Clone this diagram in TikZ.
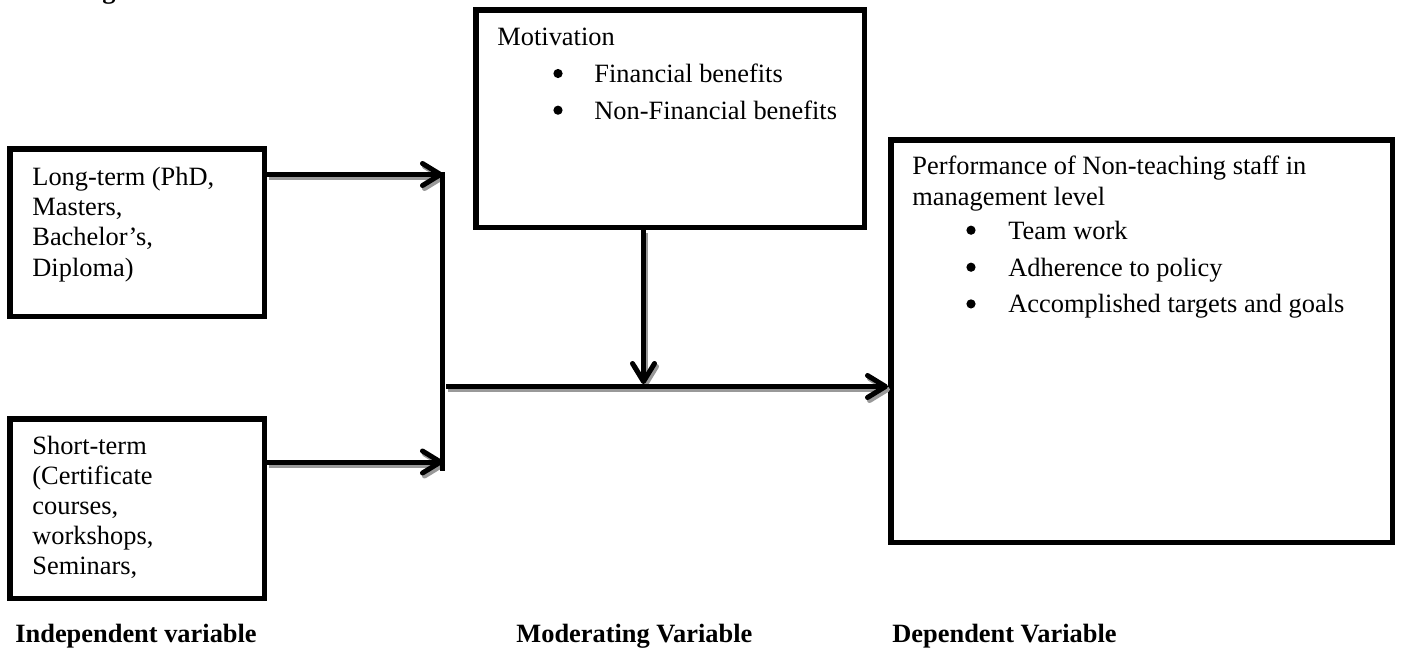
\documentclass[tikz,border=0pt]{standalone}
\usepackage{fontspec}
\setmainfont{Liberation Serif}
\usetikzlibrary{arrows.meta}
\begin{document}
\begin{tikzpicture}[x=0.5pt,y=-0.5pt,
  box/.style={draw, line width=2.75pt, inner sep=0pt, fill=white},
  txt/.style={anchor=base west, inner sep=0pt, font=\fontsize{13.2}{15.25}\selectfont},
  lbl/.style={txt, font=\fontsize{13.2}{15.25}\selectfont\bfseries},
  bul/.style={circle, fill=black, inner sep=0pt, minimum size=4.6pt},
  conn/.style={line width=2.5pt, -{Straight Barb[length=9pt,width=11pt,line cap=round,line join=round]}},
  shade/.style={conn, draw=black!40, transform canvas={xshift=1pt,yshift=-1.5pt}},
  barline/.style={line width=2.5pt}
]
\useasboundingbox (0,0) rectangle (1408,649);

% cut-off heading glyph at the top
\node[lbl] (headg) at (102,-2) {g};

% boxes
\node[box, minimum width=127.25pt, minimum height=83.75pt] (lt) at (137,232.5) {};
\node[box, minimum width=127.25pt, minimum height=89.75pt] (st) at (137,508.5) {};
\node[box, minimum width=194.25pt, minimum height=108.75pt] (mot) at (670,118.5) {};
\node[box, minimum width=250.75pt, minimum height=201.25pt] (perf) at (1141.5,341) {};

% box texts
\foreach \t [count=\i] in {{Long-term (PhD,},{Masters,},{Bachelor’s,},{Diploma)}}
  \node[txt] (lt\i) at (32,{185+30.4*(\i-1)}) {\t};
\foreach \t [count=\i] in {{Short-term},{(Certificate},{courses,},{workshops,},{Seminars,}}
  \node[txt] (st\i) at (32,{454+30.2*(\i-1)}) {\t};

\node[txt] (mot0) at (497,45.7) {Motivation};
\node[bul] (motb1) at (558,73.5) {};
\node[txt] (mot1) at (594,82.3) {Financial benefits};
\node[bul] (motb2) at (558,110.2) {};
\node[txt] (mot2) at (594,119) {Non-Financial benefits};

\node[txt] (perf0) at (912,174.3) {Performance of Non-teaching staff in};
\node[txt] (perf00) at (912,205.5) {management level};
\node[bul] (perfb1) at (971,230.2) {};
\node[txt] (perf1) at (1008,239) {Team work};
\node[bul] (perfb2) at (971,267.2) {};
\node[txt] (perf2) at (1008,276) {Adherence to policy};
\node[bul] (perfb3) at (971,303.9) {};
\node[txt] (perf3) at (1008,312.7) {Accomplished targets and goals};

% bottom labels
\node[lbl] (indep) at (15,642.5) {Independent variable};
\node[lbl] (moder) at (516,642.5) {Moderating Variable};
\node[lbl] (dep) at (892,642.5) {Dependent Variable};

% connector coordinates
\coordinate (bartop) at (442,172);
\coordinate (barbot) at (442,471);
\coordinate (ltin) at (443,174.5);
\coordinate (stin) at (443,462);
\coordinate (mainstart) at (446,386.5);
\coordinate (join) at (643.5,384);

% shadows
\draw[shade] (lt.east |- ltin) -- (ltin);
\draw[shade] (st.east |- stin) -- (stin);
\draw[shade] (mainstart) -- (mainstart -| perf.west);
\draw[shade] (mot.south -| join) -- (join);

% connectors
\draw[barline] (bartop) -- (barbot);
\draw[conn] (lt.east |- ltin) -- (ltin);
\draw[conn] (st.east |- stin) -- (stin);
\draw[conn] (mainstart) -- (mainstart -| perf.west);
\draw[conn] (mot.south -| join) -- (join);
\end{tikzpicture}
\end{document}
